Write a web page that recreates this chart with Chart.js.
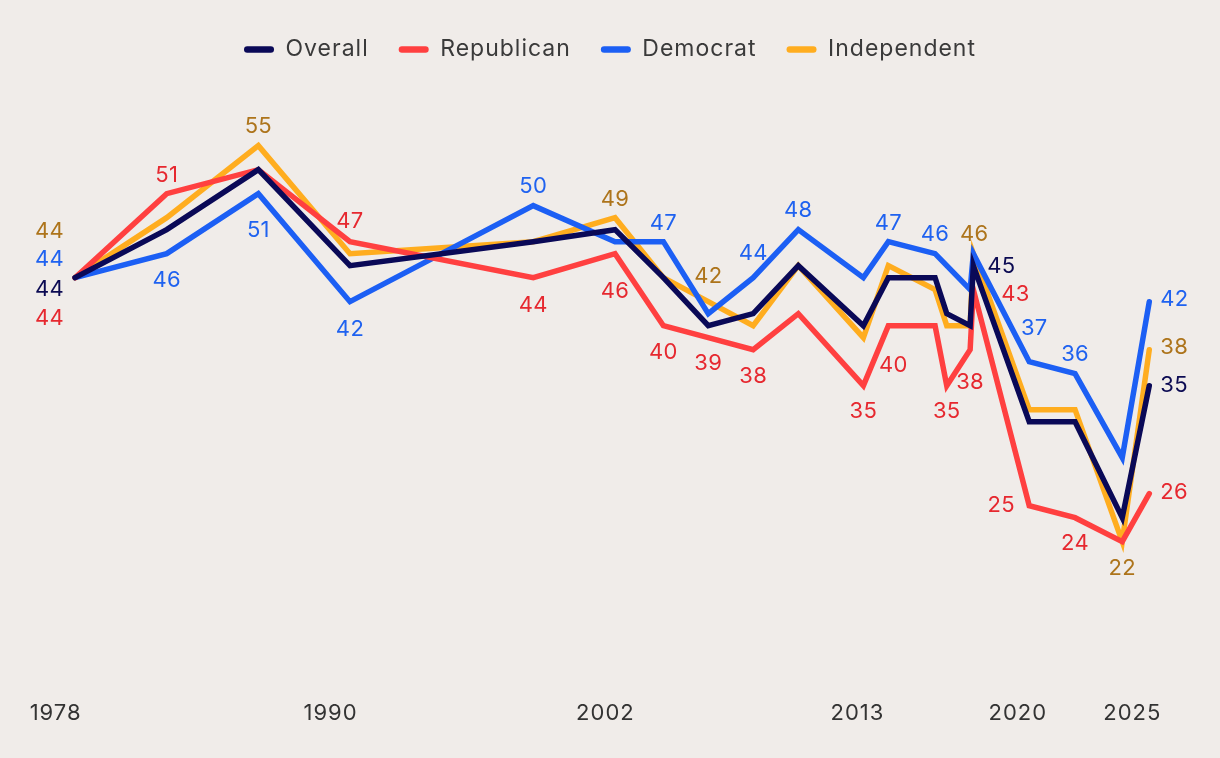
<!DOCTYPE html>
<html>
<head>
<meta charset="utf-8">
<script src="https://cdn.jsdelivr.net/npm/chart.js@4.4.1/dist/chart.umd.min.js"></script>
<style>
  html, body { margin: 0; padding: 0; background: #f0ece9; }
  #wrap { width: 1220px; height: 758px; position: relative; }
</style>
</head>
<body>
<div id="wrap"><canvas id="c"></canvas></div>
<script>
// Survey dates (decimal years)
const surveyDates = [1978.85, 1982.85, 1986.85, 1990.85, 1998.85, 2002.42, 2004.53, 2006.49, 2008.45, 2010.42,
                     2013.26, 2014.35, 2016.39, 2016.90, 2017.92, 2018.06, 2020.50, 2022.50, 2024.56, 2025.74];
const overall     = [44, 48, 53, 45, 47, 48, 44, 40, 41, 45, 40, 44, 44, 41, 40, 45, 32, 32, 24, 35];
const republican  = [44, 51, 53, 47, 44, 46, 40, 39, 38, 41, 35, 40, 40, 35, 38, 43, 25, 24, 22, 26];
const democrat    = [44, 46, 51, 42, 50, 47, 47, 41, 44, 48, 44, 47, 46, 45, 43, 46, 37, 36, 29, 42];
const independent = [44, 49, 55, 46, 47, 49, 44, 42, 40, 45, 39, 45, 43, 40, 40, 46, 33, 33, 22, 38];
const seriesNames = ['Overall', 'Republican', 'Democrat', 'Independent'];
const tickYears   = [1978, 1990, 2002, 2013, 2020, 2025];

const lineColors  = ['#0a0957', '#ff4040', '#1c5ff4', '#ffad1f'];
const labelColors = ['#0b0a52', '#e6282f', '#1f62f0', '#ad741b'];

// Which point values are labelled: [series, pointIndex, dx, dy, align]
const pointLabels = [
  [3,0,-11,-46,'right'], [2,0,-11,-18,'right'], [0,0,-11,12,'right'], [1,0,-11,41,'right'],
  [1,1,0,-18], [2,1,0,27],
  [3,2,0,-19], [2,2,0,37],
  [1,3,0,-20], [2,3,0,28],
  [2,4,0,-19], [1,4,0,28],
  [3,5,0,-18], [1,5,0,38],
  [2,6,0,-18], [1,6,0,27],
  [3,7,0,-25], [1,7,0,26],
  [2,8,0,-24], [1,8,0,27],
  [2,9,0,-19],
  [1,10,0,26],
  [2,11,0,-18], [1,11,5,40],
  [2,12,0,-19],
  [1,13,0,26],
  [1,14,0,33],
  [3,15,1,-19], [0,15,28,1], [1,15,42,5],
  [2,16,5,-33], [1,16,-28,0],
  [2,17,0,-19], [1,17,0,26],
  [3,18,0,27],
  [2,19,11,-2,'left'], [3,19,11,-2,'left'], [0,19,11,0,'left'], [1,19,11,-1,'left']
];

const FONT = 'Inter, "Open Sans", sans-serif';
Chart.defaults.font.family = FONT;

const allSeries = [overall, republican, democrat, independent];
const datasets = allSeries.map((vals, s) => ({
  label: seriesNames[s],
  data: surveyDates.map((d, i) => ({ x: d, y: vals[i] })),
  borderColor: lineColors[s],
  backgroundColor: lineColors[s],
  borderWidth: 5.5,
  pointRadius: 0,
  pointHoverRadius: 0,
  tension: 0,
  borderCapStyle: 'round',
  borderJoinStyle: 'miter',
  fill: false
}));

const spacingPlugin = {
  id: 'letterSpacing',
  beforeLayout(chart) { chart.ctx.letterSpacing = '1px'; },
  beforeDraw(chart) { chart.ctx.letterSpacing = '1px'; }
};

const labelPlugin = {
  id: 'pointLabels',
  afterDatasetsDraw(chart) {
    const ctx = chart.ctx;
    ctx.save();
    ctx.letterSpacing = '0.3px';
    ctx.font = '400 22px ' + FONT;
    ctx.textBaseline = 'middle';
    pointLabels.forEach(([s, i, dx, dy, align]) => {
      const el = chart.getDatasetMeta(s).data[i];
      const v = chart.data.datasets[s].data[i].y;
      ctx.fillStyle = labelColors[s];
      ctx.textAlign = align || 'center';
      ctx.fillText(String(v), el.x + dx, el.y + dy);
    });
    ctx.restore();
  }
};

new Chart(document.getElementById('c'), {
  type: 'line',
  data: { datasets },
  plugins: [spacingPlugin, labelPlugin],
  options: {
    responsive: true,
    maintainAspectRatio: false,
    animation: false,
    layout: { padding: { top: 8, left: 43, right: 43, bottom: 32.3 } },
    plugins: {
      tooltip: { enabled: false },
      legend: {
        position: 'top',
        align: 'center',
        labels: {
          boxWidth: 30,
          boxHeight: 6.5,
          useBorderRadius: true,
          borderRadius: 3.25,
          padding: 30,
          color: '#3a3a3a',
          font: { size: 23, family: FONT },
          generateLabels(chart) {
            return Chart.defaults.plugins.legend.labels.generateLabels(chart).map(l => {
              l.lineWidth = 0;
              l.fillStyle = lineColors[l.datasetIndex];
              l.strokeStyle = lineColors[l.datasetIndex];
              return l;
            });
          }
        }
      }
    },
    scales: {
      x: {
        type: 'linear',
        min: 1977.45,
        max: 2026.95,
        grid: { display: false, drawTicks: false },
        border: { display: false },
        afterBuildTicks(scale) { scale.ticks = tickYears.map(v => ({ value: v })); },
        afterFit(scale) { scale.height = 40; },
        ticks: {
          autoSkip: false,
          maxRotation: 0,
          padding: 14,
          color: '#333333',
          font: { size: 22, family: FONT },
          callback: v => String(v)
        }
      },
      y: {
        display: false,
        min: 10,
        max: 61.22
      }
    }
  }
});
</script>
</body>
</html>
